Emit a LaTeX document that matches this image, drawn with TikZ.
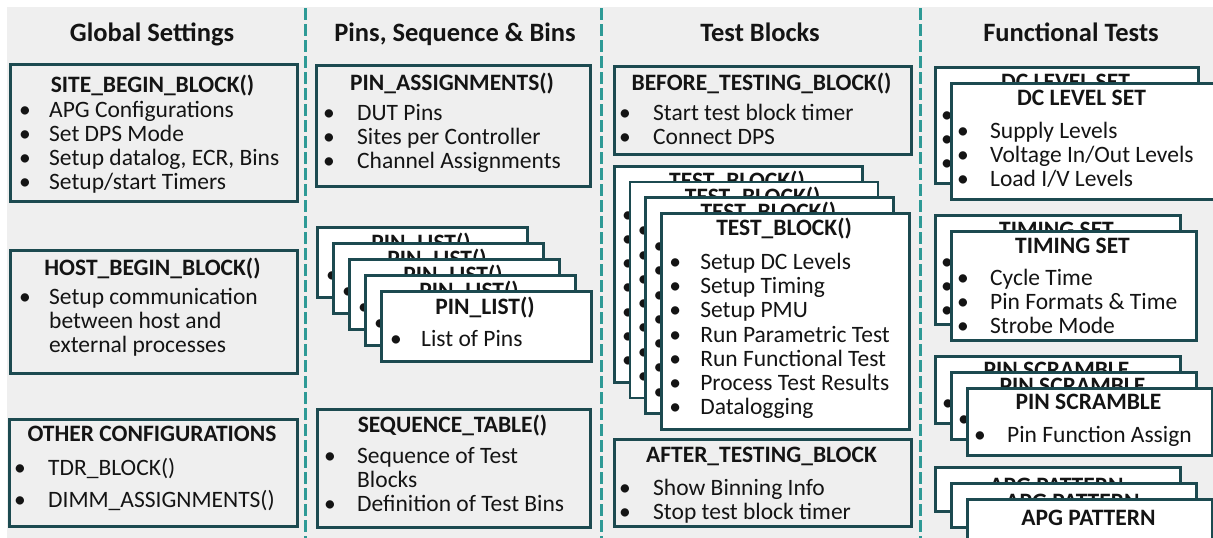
\documentclass[tikz,border=0pt]{standalone}
\usepackage{fontspec}
\setmainfont{Carlito}

\definecolor{boxline}{HTML}{1C4A50}
\definecolor{divteal}{HTML}{2E9A96}
\definecolor{paper}{HTML}{EFEFEF}
\definecolor{ink}{HTML}{141414}

\tikzset{
  panel/.style={draw=boxline, line width=2.5pt, inner sep=0pt, anchor=north west},
  card/.style={panel, fill=white},
  colhead/.style={font=\fontsize{26.5}{30}\selectfont\bfseries, text=ink, inner sep=0pt, anchor=base},
  boxhead/.style={font=\fontsize{23.5}{26}\selectfont\bfseries, text=ink, inner sep=0pt, anchor=base},
  items/.style={font=\fontsize{23.5}{24.3}\selectfont, text=ink, inner sep=0pt, anchor=base west},
  divider/.style={draw=divteal, line width=3pt, dash pattern=on 12pt off 4pt},
}
\newcommand{\bul}[1]{\makebox[#1][l]{•}}
% lines of a list, the baseline being the one of the first line
\newcommand{\lines}[1]{\begin{tabular}[t]{@{}l@{}}#1\end{tabular}}

\begin{document}
\begin{tikzpicture}[x=1pt, y=-1pt]
\useasboundingbox (0,0) rectangle (1213,538);
\clip (0,0) rectangle (1213,538);
\fill[paper] (7,7) rectangle (1213,538);

% Drawing column separators
\draw[divider] (305,8) -- (305,538);
\draw[divider] (601,8) -- (601,538);
\draw[divider] (920,8) -- (920,538);

% Column headings
\node[colhead] (headglobal) at (152,41.5) {Global Settings};
\node[colhead] (headpins) at (455,41.5) {Pins, Sequence \& Bins};
\node[colhead] (headtests) at (760,41.5) {Test Blocks};
\node[colhead] (headfunc) at (1071,41.5) {Functional Tests};

% Drawing box SITE_BEGIN_BLOCK
\node[panel, minimum width=287pt, minimum height=137pt] (sitebox) at (9,63) {};
\node[boxhead] (sitehead) at (152.5,92.5) {SITE\_BEGIN\_BLOCK()};
\node[items] (siteitems) at (19,117) {\lines{\bul{30pt}APG Configurations\\
  \bul{30pt}Set DPS Mode\\ \bul{30pt}Setup datalog, ECR, Bins\\ \bul{30pt}Setup/start Timers}};

% Drawing box HOST_BEGIN_BLOCK
\node[panel, minimum width=287pt, minimum height=123pt] (hostbox) at (9,249) {};
\node[boxhead] (hosthead) at (152.5,275.5) {HOST\_BEGIN\_BLOCK()};
\node[items] (hostitems) at (19,304) {\lines{\bul{30pt}Setup communication\\
  \hspace*{30pt}between host and\\ \hspace*{30pt}external processes}};

% Drawing box OTHER CONFIGURATIONS
\node[panel, minimum width=288pt, minimum height=107pt] (otherbox) at (8,418) {};
\node[boxhead] (otherhead) at (152,441) {OTHER CONFIGURATIONS};
\node[items, font=\fontsize{23.5}{32}\selectfont] (otheritems) at (14,475) {\lines{\bul{34pt}TDR\_BLOCK()\\
  \bul{34pt}DIMM\_ASSIGNMENTS()}};

% Drawing box PIN_ASSIGNMENTS
\node[panel, minimum width=274pt, minimum height=121pt] (assignbox) at (315,64) {};
\node[boxhead] (assignhead) at (452,90.5) {PIN\_ASSIGNMENTS()};
\node[items] (assignitems) at (323,120) {\lines{\bul{34pt}DUT Pins\\
  \bul{34pt}Sites per Controller\\ \bul{34pt}Channel Assignments}};

% Drawing stack of PIN_LIST cards
\foreach \i in {0,...,4}{
  \node[card, minimum width=210pt, minimum height=70pt] (pincard\i) at (316+16*\i,226+16*\i) {};
  \node[boxhead] (pinhead\i) at (421+16*\i,250.5+16*\i) {PIN\_LIST()};
  \node[items] (pinitems\i) at (326+16*\i,282+16*\i) {\bul{31pt}List of Pins};
}

% Drawing box SEQUENCE_TABLE
\node[panel, minimum width=273pt, minimum height=118pt] (seqbox) at (316,408) {};
\node[boxhead] (seqhead) at (452.5,432.5) {SEQUENCE\_TABLE()};
\node[items] (seqitems) at (324,463) {\lines{\bul{33pt}Sequence of Test\\
  \hspace*{33pt}Blocks\\ \bul{33pt}Definition of Test Bins}};

% Drawing box BEFORE_TESTING_BLOCK
\node[panel, minimum width=297pt, minimum height=88pt] (beforebox) at (613,65) {};
\node[boxhead] (beforehead) at (761.5,90.5) {BEFORE\_TESTING\_BLOCK()};
\node[items] (beforeitems) at (619,120) {\lines{\bul{34pt}Start test block timer\\
  \bul{34pt}Connect DPS}};

% Drawing stack of TEST_BLOCK cards
\foreach \i in {0,...,3}{
  \node[card, minimum width=248pt, minimum height=216pt] (testcard\i) at (613+15.7*\i,165+15.7*\i) {};
  \node[boxhead] (testhead\i) at (737+15.7*\i,188.5+15.7*\i) {TEST\_BLOCK()};
  \node[items] (testitems\i) at (622+15.7*\i,222+15.7*\i) {\lines{\bul{31pt}Setup DC Levels\\
    \bul{31pt}Setup Timing\\ \bul{31pt}Setup PMU\\ \bul{31pt}Run Parametric Test\\
    \bul{31pt}Run Functional Test\\ \bul{31pt}Process Test Results\\ \bul{31pt}Datalogging}};
}

% Drawing box AFTER_TESTING_BLOCK
\node[panel, minimum width=297pt, minimum height=87pt] (afterbox) at (613,438) {};
\node[boxhead] (afterhead) at (761.5,462.5) {AFTER\_TESTING\_BLOCK};
\node[items] (afteritems) at (619,495) {\lines{\bul{34pt}Show Binning Info\\
  \bul{34pt}Stop test block timer}};

% Drawing stack of DC LEVEL SET cards
\foreach \i in {0,1}{
  \node[card, minimum width=263pt, minimum height=116pt] (dccard\i) at (934+16*\i,66+16*\i) {};
  \node[boxhead] (dchead\i) at (1065.5+16*\i,89.5+16*\i) {DC LEVEL SET};
  \node[items] (dcitems\i) at (941+16*\i,122+16*\i) {\lines{\bul{33pt}Supply Levels\\
    \bul{33pt}Voltage In/Out Levels\\ \bul{33pt}Load I/V Levels}};
}

% Drawing stack of TIMING SET cards
\foreach \i in {0,1}{
  \node[card, minimum width=245pt, minimum height=109pt] (timecard\i) at (934+16*\i,214+16*\i) {};
  \node[boxhead] (timehead\i) at (1056.5+16*\i,237.5+16*\i) {TIMING SET};
  \node[items] (timeitems\i) at (941+16*\i,269+16*\i) {\lines{\bul{33pt}Cycle Time\\
    \bul{33pt}Pin Formats \& Time\\ \bul{33pt}Strobe Mode}};
}

% Drawing stack of PIN SCRAMBLE cards
\foreach \i in {0,...,2}{
  \node[card, minimum width=245pt, minimum height=67pt] (scrcard\i) at (934+16*\i,355+16*\i) {};
  \node[boxhead] (scrhead\i) at (1056.5+16*\i,377.5+16*\i) {PIN SCRAMBLE};
  \node[items] (scritems\i) at (942+16*\i,410+16*\i) {\bul{33pt}Pin Function Assign};
}

% Drawing stack of APG PATTERN cards
\foreach \i in {0,...,2}{
  \node[card, minimum width=245pt, minimum height=44pt] (apgcard\i) at (934+16*\i,466+16*\i) {};
  \node[boxhead] (apghead\i) at (1056.5+16*\i,493.5+16*\i) {APG PATTERN};
}
\end{tikzpicture}
\end{document}
